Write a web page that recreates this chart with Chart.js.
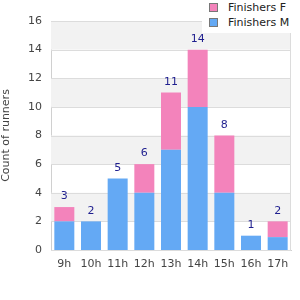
<!DOCTYPE html>
<html>
<head>
<meta charset="utf-8">
<script src="https://cdn.jsdelivr.net/npm/chart.js@4"></script>
<style>
  body { margin: 0; background: #fff; }
  #wrap { position: relative; width: 300px; height: 300px; }
  #legend { position: absolute; left: 202px; top: 0; width: 98px; height: 33px; background: #fff;
            font: 11px "DejaVu Sans", sans-serif; color: #222; }
  #legend div { position: absolute; left: 7px; height: 14px; line-height: 14px; }
  #legend span { display: inline-block; width: 7px; height: 7px; border: 1px solid #777; margin-right: 10px; vertical-align: -1px; }
</style>
</head>
<body>
<div id="wrap">
  <canvas id="myChart" width="300" height="300"></canvas>
  <div id="legend">
    <div style="top:1px"><span style="background:#f383bb"></span>Finishers F</div>
    <div style="top:16px"><span style="background:#64a9f4"></span>Finishers M</div>
  </div>
</div>
<script>
var hours = ["9h", "10h", "11h", "12h", "13h", "14h", "15h", "16h", "17h"];
var finishersM = [2, 2, 5, 4, 7, 10, 4, 1, 0.9];
var finishersF = [1, 0, 0, 2, 4, 4, 4, 0, 1.1];
var yTicks = [0, 2, 4, 6, 8, 10, 12, 14, 16];

var bands = {
  id: "bands",
  beforeDatasetsDraw: function (chart) {
    var c = chart.ctx, a = chart.chartArea, y = chart.scales.y;
    c.save();
    c.fillStyle = "#f2f2f2";
    for (var v = 2; v < 16; v += 4) {
      var t = y.getPixelForValue(v + 2), b = y.getPixelForValue(v);
      c.fillRect(a.left, t, a.right - a.left, b - t);
    }
    c.strokeStyle = "#dcdcdc";
    c.lineWidth = 1;
    for (var i = 0; i < yTicks.length; i++) {
      var p = Math.round(y.getPixelForValue(yTicks[i])) + 0.5;
      c.beginPath(); c.moveTo(a.left, p); c.lineTo(a.right, p); c.stroke();
    }
    var r = Math.floor(a.right) - 0.5;
    c.beginPath(); c.moveTo(r, a.top); c.lineTo(r, a.bottom); c.stroke();
    c.restore();
  }
};

var totals = {
  id: "totals",
  afterDatasetsDraw: function (chart) {
    var c = chart.ctx, x = chart.scales.x, y = chart.scales.y;
    c.save();
    c.fillStyle = "#1f1f8f";
    c.font = "11px 'DejaVu Sans', sans-serif";
    c.textAlign = "center";
    c.textBaseline = "bottom";
    for (var i = 0; i < hours.length; i++) {
      var s = finishersM[i] + finishersF[i];
      c.fillText(String(Math.round(s)), x.getPixelForValue(i), y.getPixelForValue(s) - 5);
    }
    c.restore();
  }
};

new Chart("myChart", {
  type: "bar",
  data: {
    labels: hours,
    datasets: [
      { label: "Finishers M", data: finishersM, backgroundColor: "#64a9f4" },
      { label: "Finishers F", data: finishersF, backgroundColor: "#f383bb" }
    ]
  },
  options: {
    responsive: false,
    animation: false,
    layout: { padding: { left: 0, top: 21, right: 9, bottom: 0 } },
    datasets: { bar: { barPercentage: 0.75, categoryPercentage: 1 } },
    plugins: { legend: { display: false }, tooltip: { enabled: false } },
    scales: {
      x: {
        stacked: true,
        afterFit: function (s) { s.height = 50; },
        grid: { display: false, drawTicks: false, tickLength: 0 },
        border: { color: "#d0d0d0" },
        ticks: { color: "#444", font: { family: "DejaVu Sans", size: 11 }, maxRotation: 0, padding: 8 }
      },
      y: {
        stacked: true,
        min: 0, max: 16,
        afterFit: function (s) { s.width = 51; },
        afterBuildTicks: function (s) { s.ticks = yTicks.map(function (v) { return { value: v }; }); },
        grid: { display: false, drawTicks: false, tickLength: 0 },
        border: { color: "#d0d0d0" },
        ticks: { color: "#444", font: { family: "DejaVu Sans", size: 11 }, padding: 9 },
        title: { display: true, text: "Count of runners", color: "#444", font: { family: "DejaVu Sans", size: 11 }, padding: { top: 0, bottom: 0 } }
      }
    }
  },
  plugins: [bands, totals]
});
</script>
</body>
</html>
